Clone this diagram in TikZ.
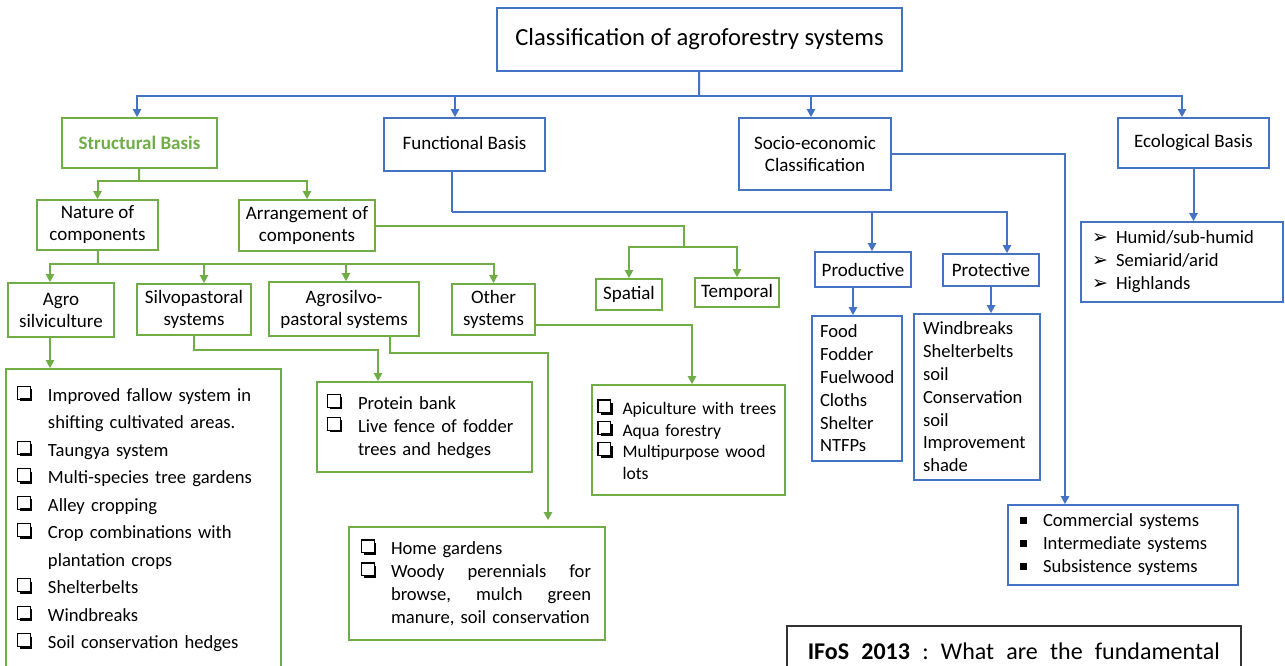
\documentclass[tikz,border=0pt]{standalone}
\usepackage{fontspec}
\setmainfont{Carlito}
\newfontfamily\symfont{DejaVu Sans}
\usepackage{tikz}
\usetikzlibrary{positioning}
\usetikzlibrary{arrows.meta}
\usepackage{xcolor}
\definecolor{cblue}{HTML}{4472C4}
\definecolor{cgreen}{HTML}{70AD47}
\hyphenpenalty=10000
\exhyphenpenalty=10000
% shadowed box bullet
\newcommand{\qglyph}{{\setlength{\unitlength}{1pt}\begin{picture}(7.2,7)
  \linethickness{0.6pt}
  \put(0,1.3){\framebox(5.8,5.8){}}
  \put(1.2,0){\rule{6pt}{1.4pt}}
  \put(5.8,0){\rule{1.4pt}{6pt}}
\end{picture}}}
\newcommand{\boxbul}[1][15pt]{\makebox[#1][l]{\qglyph}}
\newcommand{\sqbul}{\makebox[11.5pt][l]{\raisebox{1.6pt}{\rule{3.3pt}{3.3pt}}}}
\newcommand{\arrbul}{\makebox[12pt][l]{\symfont\fontsize{9.5}{9.5}\selectfont ➢}}
\newcommand{\indnt}[1][15pt]{\hspace*{#1}}

\begin{document}
\begin{tikzpicture}[
    x=0.5pt, y=-0.5pt,
    every node/.style={rectangle, inner sep=0pt, align=center, font=\fontsize{9.5}{11}\selectfont},
    bluenode/.style={draw=cblue, line width=0.8pt},
    greennode/.style={draw=cgreen, line width=0.8pt},
    listfont/.style={align=left, font=\fontsize{9.3}{#1}\selectfont},
    blueline/.style={draw=cblue, line width=1pt},
    greenline/.style={draw=cgreen, line width=1pt},
    bluearrow/.style={blueline, -{Triangle[width=4pt,length=4pt]}},
    greenarrow/.style={greenline, -{Triangle[width=4pt,length=4pt]}}
]
\useasboundingbox (0,0) rectangle (1285,665);
% Top level
\node[bluenode, minimum width=202.5pt, minimum height=31.5pt, font=\fontsize{12.3}{14}\selectfont] (root) at (699.5,39.5) {Classification of agroforestry systems};
\node[greennode, minimum width=77.5pt, minimum height=25pt, text=cgreen, font=\bfseries\fontsize{9.5}{11}\selectfont] (struc) at (139.5,143) {Structural Basis};
\node[bluenode, minimum width=80.5pt, minimum height=26.5pt] (func) at (464.5,144.5) {\raisebox{1.5pt}{Functional Basis}};
\node[bluenode, minimum width=76pt, minimum height=36pt] (socio) at (815,154) {Socio-economic\\Classification};
\node[bluenode, minimum width=75.5pt, minimum height=25pt] (eco) at (1193.5,143) {Ecological Basis};
% Structural basis
\node[greennode, minimum width=60.5pt, minimum height=25pt] (nat) at (97.5,225) {Nature of\\components};
\node[greennode, minimum width=68pt, minimum height=25.5pt] (arrg) at (307,225.5) {Arrangement of\\components};
\node[greennode, minimum width=53pt, minimum height=27pt] (agro) at (61,310) {Agro\\silviculture};
\node[greennode, minimum width=57pt, minimum height=25.5pt] (silvo) at (194,309.5) {Silvopastoral\\systems};
\node[greennode, minimum width=75pt, minimum height=27pt] (agsp) at (344,309) {Agrosilvo-\\pastoral systems};
\node[greennode, minimum width=41.5pt, minimum height=25.5pt] (oth) at (493.5,309.5) {Other\\systems};
\node[greennode, minimum width=33pt, minimum height=15.5pt] (spat) at (629,294.5) {Spatial};
\node[greennode, minimum width=42pt, minimum height=14.5pt] (temp) at (737,292.5) {Temporal};
% Structural lists
\node[greennode, minimum width=137.5pt, minimum height=150.5pt, text width=125.5pt, listfont=13.75] (agrol) at (143.5,519.5) {\boxbul Improved fallow system in\\
  \indnt shifting cultivated areas.\\
  \boxbul Taungya system\\
  \boxbul Multi-species tree gardens\\
  \boxbul Alley cropping\\
  \boxbul Crop combinations with\\
  \indnt plantation crops\\
  \boxbul Shelterbelts\\
  \boxbul Windbreaks\\
  \boxbul Soil conservation hedges};
\node[greennode, minimum width=107.5pt, minimum height=45pt, text width=96.5pt, listfont=11.5] (protn) at (424.5,427) {\boxbul Protein bank\\
  \boxbul Live fence of fodder\\
  \indnt trees and hedges};
\node[greennode, minimum width=128pt, minimum height=56.5pt, text width=115pt, listfont=11.5] (home) at (477,583.5) {\boxbul[14.5pt]Home gardens\\
  \boxbul[14.5pt]\makebox[100pt][s]{Woody\hfill perennials\hfill for}\\
  \indnt[14.5pt]\makebox[100pt][s]{browse,\hfill mulch\hfill green}\\
  \indnt[14.5pt]manure, soil conservation};
\node[greennode, minimum width=96.5pt, minimum height=55pt, text width=90pt, align=left, font=\fontsize{8.8}{10.7}\selectfont] (apic) at (688.5,440) {\boxbul[12pt]Apiculture with trees\\
  \boxbul[12pt]Aqua forestry\\
  \boxbul[12pt]Multipurpose wood\\
  \indnt[12pt]lots};
% Functional basis
\node[bluenode, minimum width=48pt, minimum height=17.5pt] (prod) at (863,269.5) {Productive};
\node[bluenode, minimum width=48pt, minimum height=16pt] (prot) at (991,270) {Protective};
\node[bluenode, minimum width=45pt, minimum height=72.5pt, text width=37pt, listfont=11.4] (prodl) at (857,388.5) {Food\\Fodder\\Fuelwood\\Cloths\\Shelter\\NTFPs};
\node[bluenode, minimum width=63pt, minimum height=83pt, text width=54pt, listfont=11.4] (protl) at (977,397) {Windbreaks\\Shelterbelts\\soil\\Conservation\\soil\\Improvement\\shade};
% Socio-economic and ecological
\node[bluenode, minimum width=115pt, minimum height=40pt, text width=103pt, listfont=11.5] (comm) at (1123,545) {\sqbul Commercial systems\\
  \sqbul Intermediate systems\\
  \sqbul Subsistence systems};
\node[bluenode, minimum width=101pt, minimum height=40pt, text width=90pt, listfont=11.5] (ecol) at (1182,262) {\arrbul Humid/sub-humid\\
  \arrbul Semiarid/arid\\
  \arrbul Highlands};
% Question box
\node[draw=black!80, line width=0.8pt, anchor=north west, minimum width=227pt, text width=206pt, inner ysep=8.5pt, font=\fontsize{12}{14}\selectfont] (ifos) at (786,625) {\makebox[206pt][s]{\textbf{IFoS}\hfill\textbf{2013}\hfill:\hfill What\hfill are\hfill the\hfill fundamental}};
% Edges
\coordinate (tj) at (699,96);
\draw[blueline] (root) -- (tj);
\draw[bluearrow] (tj) -| ([xshift=-1.25pt]struc.north);
\draw[bluearrow] (tj) -| ([xshift=-4.75pt]func.north);
\draw[bluearrow] (tj) -| ([xshift=-2pt]socio.north);
\draw[bluearrow] (tj) -| ([xshift=-5.75pt]eco.north);
\coordinate (sj) at (139,181);
\draw[greenline] (struc) -- (sj);
\draw[greenarrow] (sj) -| (nat);
\draw[greenarrow] (sj) -| (arrg);
\coordinate (nj) at (98,264);
\draw[greenline] (nat) -- (nj);
\draw[greenarrow] (nj) -| ([xshift=-5.5pt]agro.north);
\draw[greenarrow] (nj) -| ([xshift=5pt]silvo.north);
\draw[greenarrow] (nj) -| ([xshift=1pt]agsp.north);
\draw[greenarrow] (nj) -| (oth);
\coordinate (aj) at (684,247);
\draw[greenline] (arrg.east) -| (aj);
\draw[greenarrow] (aj) -| (spat);
\draw[greenarrow] (aj) -| (temp);
\draw[greenarrow] ([xshift=-5.5pt]agro.south) -- ([xshift=-5.5pt]agro.south |- agrol.north);
\coordinate (pj) at (378,350);
\draw[greenarrow] (silvo.south) |- (pj) -- (pj |- protn.north);
\coordinate (hj) at (548,353);
\draw[greenarrow, shorten >=3pt] ([xshift=23pt]agsp.south) |- (hj) -- (hj |- home.north);
\draw[greenarrow] ([yshift=-7.75pt]oth.east) -| ([xshift=1.75pt]apic.north);
\coordinate (fj) at (452,212);
\draw[blueline] (func.south -| fj) -- (fj);
\draw[bluearrow] (fj) -| ([xshift=4.5pt]prod.north);
\draw[bluearrow] (fj) -| ([xshift=8pt]prot.north);
\draw[bluearrow] ([xshift=-5pt]prod.south) -- ([xshift=-5pt]prod.south |- prodl.north);
\draw[bluearrow] (prot) -- (prot |- protl.north);
\draw[bluearrow] (socio.east) -| ([xshift=-29pt]comm.north);
\draw[bluearrow] (eco) -- (eco |- ecol.north);

\end{tikzpicture}
\end{document}
